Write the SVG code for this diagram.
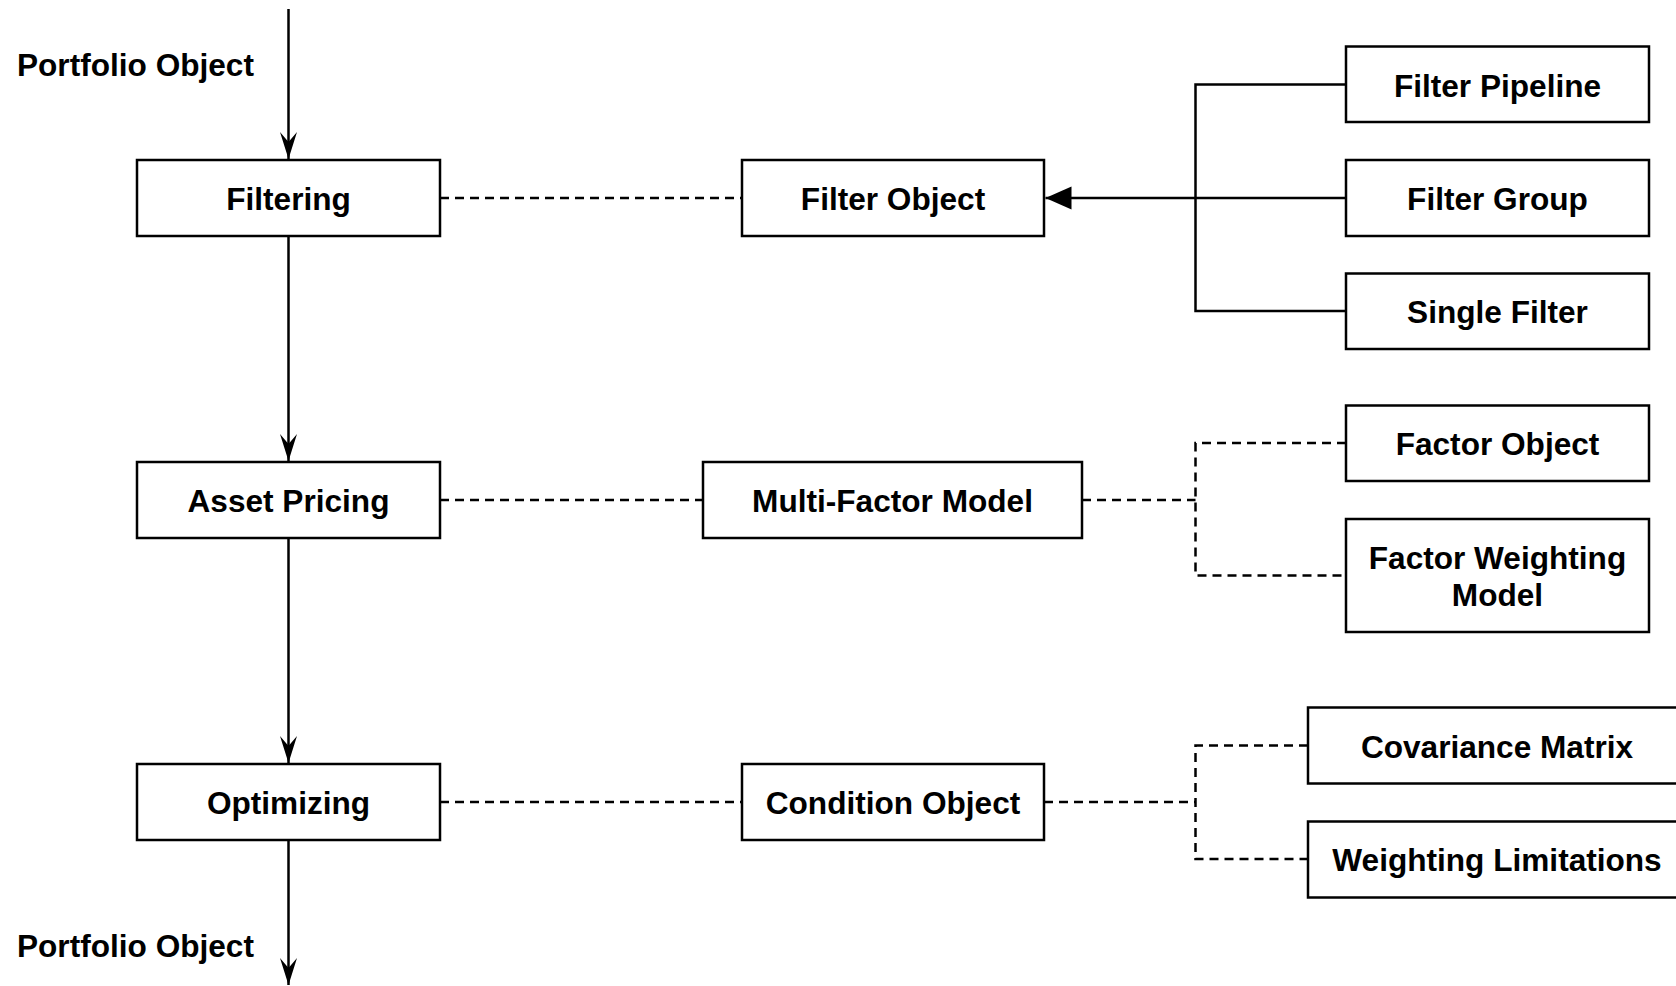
<svg xmlns="http://www.w3.org/2000/svg" width="1676" height="986" viewBox="0 0 1676 986">
<style>
.box{fill:#fff;stroke:#000;stroke-width:2.5}
.t{font-family:"Liberation Sans",Arial,sans-serif;font-weight:bold;font-size:31.6px;fill:#000;text-anchor:middle}
.lbl{font-family:"Liberation Sans",Arial,sans-serif;font-weight:bold;font-size:31.6px;fill:#000}
.s{fill:none;stroke:#000;stroke-width:2.5}
.d{fill:none;stroke:#000;stroke-width:2.5;stroke-dasharray:9 6}
</style>
<defs>
<marker id="dart" markerUnits="userSpaceOnUse" viewBox="-28 -10 29 20" refX="0" refY="0" markerWidth="29" markerHeight="20" orient="auto">
<path d="M0,0 L-27,-8.5 L-17,0 L-27,8.5 Z" fill="#000"/>
</marker>
<marker id="tri" markerUnits="userSpaceOnUse" viewBox="-27 -13 28 26" refX="0" refY="0" markerWidth="28" markerHeight="26" orient="auto">
<path d="M0,0 L-26,-11.5 L-26,11.5 Z" fill="#000"/>
</marker>
</defs>
<rect width="1676" height="986" fill="#fff"/>
<g id="connectors">
<line class="s" x1="288.5" y1="9" x2="288.5" y2="159" marker-end="url(#dart)"/>
<line class="s" x1="288.5" y1="236" x2="288.5" y2="461" marker-end="url(#dart)"/>
<line class="s" x1="288.5" y1="538" x2="288.5" y2="763" marker-end="url(#dart)"/>
<line class="s" x1="288.5" y1="840" x2="288.5" y2="985" marker-end="url(#dart)"/>
<line class="d" x1="440" y1="198" x2="742" y2="198"/>
<line class="d" x1="440" y1="500" x2="703" y2="500"/>
<line class="d" x1="440" y1="802" x2="742" y2="802"/>
<line class="s" x1="1346" y1="198" x2="1045.5" y2="198" marker-end="url(#tri)"/>
<path class="s" d="M1346,84.5 H1195.5 V311 H1346"/>
<path class="d" d="M1082,500 H1195.5"/>
<path class="d" d="M1346,443 H1195.5 V575.5 H1346"/>
<path class="d" d="M1044,802 H1195.5"/>
<path class="d" d="M1308,745.5 H1195.5 V859 H1308"/>
</g>
<text class="lbl" x="17" y="75.5">Portfolio Object</text>
<text class="lbl" x="17" y="956.5">Portfolio Object</text>
<g id="filtering"><rect class="box" x="137" y="160" width="303" height="76"/><text class="t" x="288.5" y="210">Filtering</text></g>
<g id="asset-pricing"><rect class="box" x="137" y="462" width="303" height="76"/><text class="t" x="288.5" y="512">Asset Pricing</text></g>
<g id="optimizing"><rect class="box" x="137" y="764" width="303" height="76"/><text class="t" x="288.5" y="814">Optimizing</text></g>
<g id="filter-object"><rect class="box" x="742" y="160" width="302" height="76"/><text class="t" x="893" y="210">Filter Object</text></g>
<g id="multi-factor-model"><rect class="box" x="703" y="462" width="379" height="76"/><text class="t" x="892.5" y="512">Multi-Factor Model</text></g>
<g id="condition-object"><rect class="box" x="742" y="764" width="302" height="76"/><text class="t" x="893" y="814">Condition Object</text></g>
<g id="filter-pipeline"><rect class="box" x="1346" y="46.5" width="303" height="75.5"/><text class="t" x="1497.5" y="96.5">Filter Pipeline</text></g>
<g id="filter-group"><rect class="box" x="1346" y="160" width="303" height="76"/><text class="t" x="1497.5" y="210">Filter Group</text></g>
<g id="single-filter"><rect class="box" x="1346" y="273.5" width="303" height="75.5"/><text class="t" x="1497.5" y="323">Single Filter</text></g>
<g id="factor-object"><rect class="box" x="1346" y="405.5" width="303" height="75.5"/><text class="t" x="1497.5" y="455">Factor Object</text></g>
<g id="factor-weighting-model"><rect class="box" x="1346" y="519" width="303" height="113"/><text class="t" x="1497.5" y="569">Factor Weighting</text><text class="t" x="1497.5" y="606">Model</text></g>
<g id="covariance-matrix"><rect class="box" x="1308" y="707.5" width="378" height="76"/><text class="t" x="1497" y="758">Covariance Matrix</text></g>
<g id="weighting-limitations"><rect class="box" x="1308" y="821.5" width="378" height="76"/><text class="t" x="1497" y="871">Weighting Limitations</text></g>
</svg>
